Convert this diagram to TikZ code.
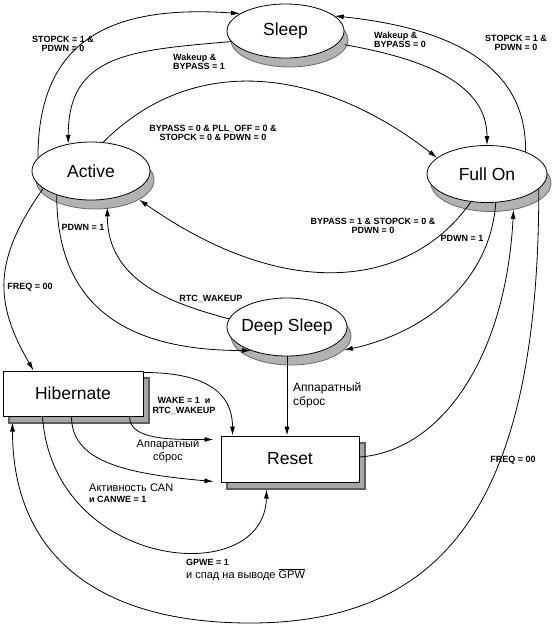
\documentclass[tikz,border=0pt]{standalone}
\usepackage{fontspec}
\setmainfont{Liberation Sans}
\usetikzlibrary{arrows.meta,shapes.geometric,shadows}
\definecolor{shadefill}{RGB}{178,178,178}
\definecolor{shadeedge}{RGB}{105,105,105}
\definecolor{boxfill}{RGB}{166,166,166}
\definecolor{boxedge}{RGB}{95,95,95}
\newcommand{\lblfont}{\fontsize{9}{9.5}\selectfont\bfseries}
\tikzset{
  estate/.style={ellipse, draw=black, fill=white, line width=0.8pt, inner sep=-6pt,
               font=\fontsize{17.5}{20}\selectfont,
               drop shadow={shadow xshift=4pt, shadow yshift=-9pt, fill=shadefill,
                            draw=shadeedge, line width=0.8pt, opacity=1}},
  rstate/.style={rectangle, draw=black, fill=white, line width=1pt, minimum height=45pt,
               font=\fontsize{17.5}{20}\selectfont,
               drop shadow={shadow xshift=6pt, shadow yshift=-7pt, fill=boxfill,
                            draw=boxedge, line width=1.4pt, opacity=1}},
  flow/.style={-{Latex[length=9pt,width=5pt]}, line width=0.8pt, draw=black},
  lbl/.style={font=\lblfont, align=center, inner sep=0pt},
  rulbl/.style={font=\fontsize{12}{14}\selectfont, align=left, inner sep=0pt},
}
\begin{document}
\begin{tikzpicture}[x=1pt,y=1pt]
  \useasboundingbox (0,0) rectangle (553,-626);
  % states
  \node[estate, minimum width=117pt, minimum height=54pt] (sleep) at (285.5,-31) {Sleep};
  \node[estate, minimum width=118pt, minimum height=58pt] (active) at (91,-171) {Active};
  \node[estate, minimum width=120pt, minimum height=57pt] (fullon) at (487,-174) {Full On};
  \node[estate, minimum width=120pt, minimum height=58pt] (deepsleep) at (287,-327) {Deep Sleep};
  \node[rstate, minimum width=140pt] (hibernate) at (73,-393.5) {Hibernate};
  \node[rstate, minimum width=138pt, minimum height=46pt] (reset) at (290,-459) {Reset};
  \coordinate (outerlow) at (250,-623);

  % Sleep <-> Active / Full On
  \draw[flow] (active.166) to[out=90, in=176, out distance=118pt, in distance=130pt] (sleep.159);
  \draw[flow] (sleep.191) to[out=185, in=90, out distance=101pt, in distance=90pt] (active.130);
  \draw[flow] (fullon.30) to[out=89, in=-6, out distance=91pt, in distance=108pt] (sleep.17);
  \draw[flow] ([shift={(4pt,-4pt)}]sleep.-10) to[out=-10, in=90, out distance=85pt, in distance=60pt] (fullon.90);
  % Active <-> Full On
  \draw[flow] (active.67) to[out=45, in=142, out distance=134pt, in distance=139pt] (fullon.162);
  \draw[flow] (fullon.-120) to[out=-125, in=-35, out distance=102pt, in distance=185pt] ([shift={(4pt,-9pt)}]active.-24);
  % Deep Sleep
  \draw[flow] (fullon.-73) to[out=-94, in=12, out distance=80pt, in distance=82pt] ([shift={(4pt,-9pt)}]deepsleep.-15);
  \draw[flow] (active.-145) to[out=-90, in=180, out distance=115pt, in distance=120pt] (deepsleep.-147);
  \draw[flow] (deepsleep.172) to[out=165, in=-90, out distance=60pt, in distance=74pt] ([yshift=-8pt]active.-60);
  \draw[flow] (deepsleep.south) -- (deepsleep.south |- reset.north);
  % Hibernate
  \draw[flow] (active.-160) to[out=-125, in=120, out distance=88pt, in distance=79pt] ([xshift=31pt]hibernate.north west);
  \draw[flow] (fullon.-16) to[out=-90, in=0, out distance=303pt, in distance=202pt] (outerlow)
      to[out=180, in=-90, out distance=154pt, in distance=131pt] ([shift={(10pt,-6pt)}]hibernate.south west);
  % Reset
  \draw[flow] ([yshift=2pt]reset.east) to[out=4, in=-93, out distance=80pt, in distance=151pt] ([shift={(4pt,-9pt)}]fullon.-50);
  \draw[flow] ([yshift=-2pt]hibernate.north east) to[out=0, in=90, out distance=50pt, in distance=50pt] ([xshift=12pt]reset.north west);
  \draw[flow] ([xshift=127pt]hibernate.south west) to[out=-90, in=180, out distance=24pt, in distance=41pt] ([shift={(-7pt,-4pt)}]reset.north west);
  \draw[flow] ([xshift=69pt]hibernate.south west) to[out=-90, in=175, out distance=45pt, in distance=89pt] ([shift={(-7pt,1pt)}]reset.south west);
  \draw[flow] ([xshift=40pt]hibernate.south west) to[out=-86, in=-91, out distance=154pt, in distance=101pt] ([shift={(46pt,-7pt)}]reset.south west);

  % labels
  \node[lbl] (l-actslp) at (63,-44) {STOPCK = 1 \&\\PDWN = 0};
  \node[lbl, align=left] (l-slpact) at (199,-62) {Wakeup \&\\BYPASS = 1};
  \node[lbl] (l-fullslp) at (516,-43) {STOPCK = 1 \&\\PDWN = 0};
  \node[lbl, align=left] (l-slpfull) at (400,-40) {Wakeup \&\\BYPASS = 0};
  \node[lbl] (l-actfull) at (213,-133) {BYPASS = 0 \& PLL\_OFF = 0 \&\\STOPCK = 0 \& PDWN = 0};
  \node[lbl] (l-fullact) at (373,-226) {BYPASS = 1 \& STOPCK = 0 \&\\PDWN = 0};
  \node[lbl] (l-fulldeep) at (462,-238) {PDWN = 1};
  \node[lbl] (l-actdeep) at (83,-227) {PDWN = 1};
  \node[lbl] (l-rtc) at (211,-299) {RTC\_WAKEUP};
  \node[lbl] (l-freqa) at (30,-287) {FREQ = 00};
  \node[lbl] (l-freqf) at (513,-460) {FREQ = 00};
  \node[rulbl, anchor=west] (l-hwdeep) at (293,-395) {Аппаратный\\сброс};
  \node[rulbl, align=center, font=\fontsize{11}{13}\selectfont] (l-hwhib) at (168,-451) {Аппаратный\\сброс};
  \node[lbl] (l-wake) at (184,-406) {WAKE = 1~~и\\RTC\_WAKEUP};
  \node[rulbl, anchor=west, font=\fontsize{11}{11}\selectfont] (l-can) at (89,-493)
      {Активность CAN\\{\lblfont и CANWE = 1}};
  \node[rulbl, anchor=west, font=\fontsize{11}{12.5}\selectfont] (l-gpw) at (186,-570)
      {{\lblfont GPWE = 1}\\и спад на выводе $\overline{\mbox{GPW}}$};
\end{tikzpicture}
\end{document}
